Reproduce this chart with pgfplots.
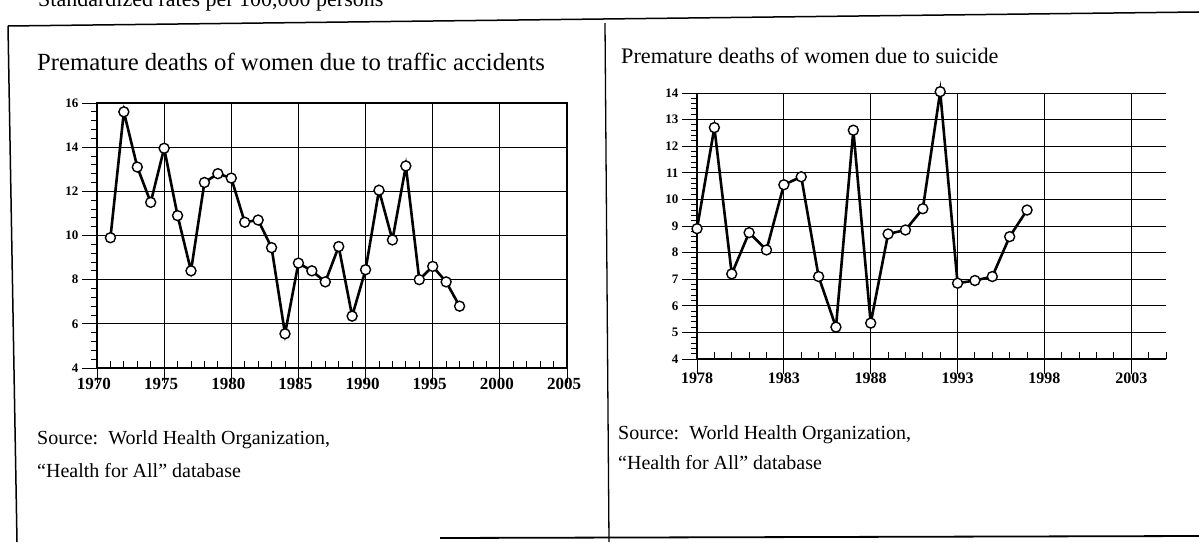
\documentclass[border=0pt]{standalone}
\usepackage{pgfplots}
\pgfplotsset{compat=1.18}
\usepackage{fontspec}
\setmainfont{Liberation Serif}

\pgfplotstableread{
year val
1971 9.9
1972 15.6
1973 13.1
1974 11.5
1975 13.95
1976 10.9
1977 8.4
1978 12.4
1979 12.8
1980 12.6
1981 10.6
1982 10.7
1983 9.45
1984 5.55
1985 8.75
1986 8.4
1987 7.9
1988 9.5
1989 6.35
1990 8.45
1991 12.05
1992 9.8
1993 13.15
1994 8.0
1995 8.6
1996 7.9
1997 6.8
}\traffic

\pgfplotstableread{
year val
1978 8.9
1979 12.7
1980 7.2
1981 8.75
1982 8.1
1983 10.55
1984 10.85
1985 7.1
1986 5.2
1987 12.6
1988 5.35
1989 8.7
1990 8.85
1991 9.65
1992 14.05
1993 6.85
1994 6.95
1995 7.1
1996 8.6
1997 9.6
}\suicide

\pgfplotsset{
  mystyle/.style={
    scale only axis,
    anchor=south west,
    clip=false,
    tick pos=left,
    tick align=outside,
    major tick length=15pt,
    minor tick length=6pt,
    every tick/.style={black, line width=1pt},
    grid=major,
    major grid style={black, line width=1pt},
    axis line style={-, line width=1.3pt},
    /pgf/number format/assume math mode=true,
    /pgf/number format/1000 sep={},
    extra tick style={grid=none, tick align=inside, major tick length=7pt},
    extra x tick labels={},
  },
  myline/.style={black, line width=2.6pt, mark=*, mark size=5pt,
    mark options={fill=white, draw=black, line width=1.4pt}},
}

\begin{document}
\begin{tikzpicture}[x=1pt,y=1pt]
\useasboundingbox (0,0) rectangle (1199,542);
\clip (0,0) rectangle (1199,542);
% frame
\draw[line width=1.5pt] (8,516) -- (17,0);
\draw[line width=1.5pt] (8,516) -- (1199,530);
\draw[line width=1.3pt] (605,519) -- (609,0);
\draw[line width=1.8pt] (440,4) -- (1199,6);
\node[anchor=base west, inner sep=0, font=\fontsize{22}{25}\selectfont] at (38,535) {Standardized rates per 100,000 persons};

% titles
\node[anchor=base west, inner sep=0, font=\fontsize{24.7}{28}\selectfont] at (37,471) {Premature deaths of women due to traffic accidents};
\node[anchor=base west, inner sep=0, font=\fontsize{22.2}{26}\selectfont] at (621,478) {Premature deaths of women due to suicide};

% sources
\node[anchor=base west, inner sep=0, font=\fontsize{20}{24}\selectfont] at (37,98) {Source:\ \ World Health Organization,};
\node[anchor=base west, inner sep=0, font=\fontsize{20}{24}\selectfont] at (37,65) {“Health for All” database};
\node[anchor=base west, inner sep=0, font=\fontsize{20}{24}\selectfont] at (618,103) {Source:\ \ World Health Organization,};
\node[anchor=base west, inner sep=0, font=\fontsize{20}{24}\selectfont] at (618,73) {“Health for All” database};

\begin{axis}[mystyle,
  at={(97pt,174pt)}, width=470pt, height=265pt,
  xmin=1970, xmax=2005, ymin=4, ymax=16,
  xtick={1970,1975,...,2005}, ytick={4,6,...,16},
  minor y tick num=4,
  extra x ticks={1971,1972,1973,1974,1976,1977,1978,1979,1981,1982,1983,1984,1986,1987,1988,1989,1991,1992,1993,1994,1996,1997,1998,1999,2001,2002,2003,2004},
  xticklabel style={font=\fontsize{17}{19}\selectfont\bfseries, yshift=8pt, xshift=-3pt},
  yticklabel style={font=\fontsize{13}{15}\selectfont\bfseries},
]
\addplot[myline] table[x=year, y=val] {\traffic};
\end{axis}

\begin{axis}[mystyle,
  at={(697pt,183pt)}, width=469pt, height=266pt,
  xmin=1978, xmax=2005, ymin=4, ymax=14,
  axis x line*=bottom, axis y line*=left,
  xtick={1978,1983,...,2003}, ytick={4,5,...,14},
  minor y tick num=4,
  extra x ticks={1979,1980,1981,1982,1984,1985,1986,1987,1989,1990,1991,1992,1994,1995,1996,1997,1999,2000,2001,2002,2004,2005},
  xticklabel style={font=\fontsize{16}{18}\selectfont\bfseries, yshift=5pt},
  yticklabel style={font=\fontsize{13}{15}\selectfont\bfseries},
]
\addplot[myline] table[x=year, y=val] {\suicide};
\end{axis}
\end{tikzpicture}
\end{document}
